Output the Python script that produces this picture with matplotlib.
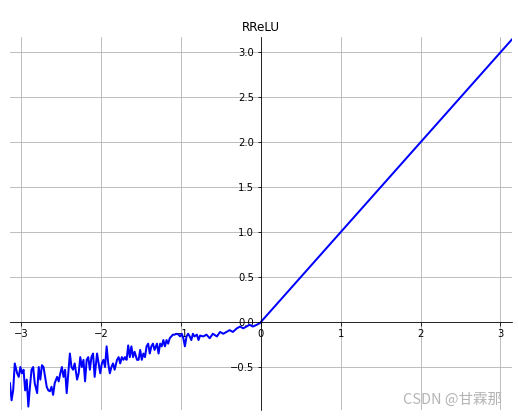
import numpy as np
import matplotlib
matplotlib.use("Agg")
import matplotlib.pyplot as plt

# negative side of RReLU (random slopes)
x_neg = [-3.14, -3.12, -3.10, -3.08, -3.05, -3.03, -3.01, -2.99, -2.97, -2.95,
         -2.93, -2.91, -2.89, -2.87, -2.85, -2.83, -2.80, -2.78, -2.76, -2.74,
         -2.72, -2.70, -2.68, -2.66, -2.64, -2.62, -2.60, -2.58, -2.55, -2.53,
         -2.51, -2.49, -2.47, -2.45, -2.43, -2.41, -2.39, -2.37, -2.35, -2.33,
         -2.30, -2.28, -2.26, -2.24, -2.22, -2.20, -2.18, -2.16, -2.14, -2.12,
         -2.10, -2.08, -2.05, -2.03, -2.01, -1.99, -1.97, -1.95, -1.93, -1.91,
         -1.89, -1.87, -1.85, -1.83, -1.80, -1.78, -1.76, -1.74, -1.72, -1.70,
         -1.68, -1.66, -1.64, -1.62, -1.60, -1.58, -1.55, -1.53, -1.51, -1.49,
         -1.47, -1.45, -1.43, -1.41, -1.39, -1.37, -1.35, -1.33, -1.30, -1.28,
         -1.26, -1.24, -1.22, -1.20, -1.18, -1.16, -1.14, -1.12, -1.10, -1.08,
         -1.05, -1.03, -1.01, -0.99, -0.97, -0.95, -0.93, -0.91, -0.89, -0.87,
         -0.85, -0.83, -0.80, -0.78, -0.76, -0.72, -0.68, -0.64, -0.60, -0.55,
         -0.51, -0.47, -0.43, -0.39, -0.35, -0.30, -0.26, -0.22, -0.18, -0.14,
         -0.10, -0.05, -0.01]
y_neg = [-0.68, -0.87, -0.76, -0.46, -0.57, -0.61, -0.50, -0.57, -0.53, -0.76,
         -0.64, -0.94, -0.72, -0.53, -0.50, -0.68, -0.79, -0.50, -0.64, -0.48,
         -0.50, -0.61, -0.72, -0.76, -0.77, -0.72, -0.81, -0.68, -0.61, -0.66,
         -0.57, -0.50, -0.61, -0.53, -0.79, -0.57, -0.35, -0.50, -0.53, -0.46,
         -0.64, -0.57, -0.39, -0.50, -0.42, -0.66, -0.42, -0.39, -0.53, -0.39,
         -0.35, -0.61, -0.35, -0.46, -0.57, -0.46, -0.42, -0.50, -0.27, -0.46,
         -0.57, -0.50, -0.46, -0.53, -0.42, -0.39, -0.46, -0.39, -0.42, -0.39,
         -0.42, -0.26, -0.39, -0.27, -0.39, -0.33, -0.42, -0.42, -0.31, -0.42,
         -0.35, -0.39, -0.27, -0.24, -0.35, -0.27, -0.24, -0.31, -0.24, -0.35,
         -0.24, -0.27, -0.20, -0.27, -0.20, -0.24, -0.18, -0.16, -0.14, -0.14,
         -0.13, -0.14, -0.16, -0.13, -0.18, -0.27, -0.16, -0.13, -0.16, -0.20,
         -0.13, -0.16, -0.14, -0.20, -0.15, -0.16, -0.14, -0.18, -0.13, -0.16,
         -0.11, -0.13, -0.11, -0.09, -0.11, -0.07, -0.05, -0.07, -0.05, -0.03,
         -0.05, -0.03, -0.01]

# positive side is the identity
x_pos = [0.0, 3.1416]
y_pos = [0.0, 3.1416]

x = x_neg + x_pos
y = y_neg + y_pos

fig = plt.figure(figsize=(518 / 72, 416 / 72), dpi=72)
ax = fig.add_axes([0.019, 0.014, 0.969, 0.897])

ax.plot(x, y, color="blue", linewidth=2)

ax.spines["left"].set_position(("data", 0))
ax.spines["bottom"].set_position(("data", 0))
ax.spines["top"].set_visible(False)
ax.spines["right"].set_visible(False)

ax.set_xlim(-3.1416, 3.1416)
ax.set_ylim(-0.98, 3.17)
ax.set_xticks([-3, -2, -1, 0, 1, 2, 3])
ax.set_yticks([-0.5, 0.0, 0.5, 1.0, 1.5, 2.0, 2.5, 3.0])
ax.grid(True)
ax.set_title("RReLU")

# watermark
fig.text(0.969, 0.038, "CSDN @甘霖那", ha="right", va="center", fontsize=14.5,
         color="#b4b4b4", family=["Noto Sans CJK SC", "DejaVu Sans"])

fig.savefig("out.png", dpi=72)
